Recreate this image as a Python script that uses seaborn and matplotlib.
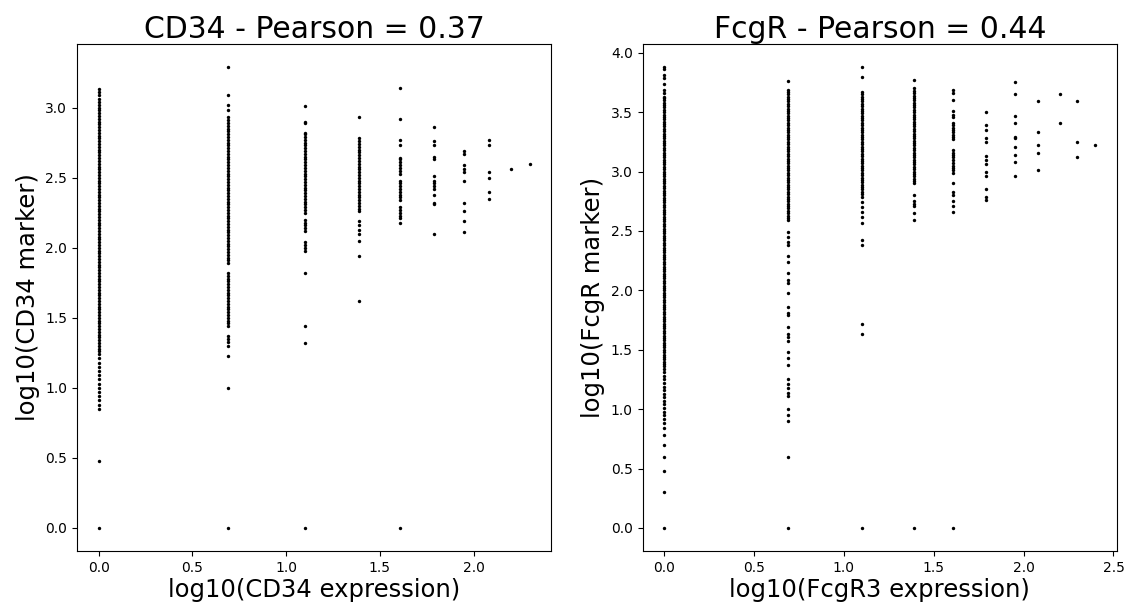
import matplotlib
matplotlib.use("Agg")
import matplotlib.pyplot as plt
import seaborn as sns
import pandas as pd

# ---------------- data ----------------
cd34_x_levels = [0.0, 0.69, 1.10, 1.39, 1.61, 1.79, 1.95, 2.08, 2.20, 2.30]
cd34_y_by_level = [
    # x = 0.00
    [0.0, 0.48, 0.85, 0.88, 0.91, 0.94, 0.97, 1.00, 1.03, 1.06, 1.09, 1.12, 1.15, 1.18, 1.21,
     1.24, 1.26, 1.28, 1.30, 1.32, 1.34, 1.36, 1.38, 1.40, 1.42, 1.44, 1.46, 1.48, 1.50, 1.52,
     1.54, 1.56, 1.58, 1.60, 1.62, 1.64, 1.66, 1.68, 1.70, 1.72, 1.74, 1.76, 1.78, 1.80, 1.82,
     1.84, 1.86, 1.88, 1.90, 1.92, 1.94, 1.96, 1.98, 2.00, 2.02, 2.04, 2.06, 2.08, 2.10, 2.12,
     2.14, 2.16, 2.18, 2.20, 2.22, 2.24, 2.26, 2.28, 2.30, 2.32, 2.34, 2.36, 2.38, 2.40, 2.42,
     2.44, 2.46, 2.48, 2.50, 2.52, 2.54, 2.56, 2.58, 2.60, 2.62, 2.64, 2.66, 2.68, 2.70, 2.72,
     2.74, 2.76, 2.78, 2.80, 2.82, 2.84, 2.86, 2.88, 2.90, 2.92, 2.94, 2.96, 2.98, 3.00, 3.02,
     3.04, 3.06, 3.09, 3.11, 3.13],
    # x = 0.69
    [0.0, 1.00, 1.23, 1.30, 1.33, 1.35, 1.37, 1.44, 1.46, 1.48, 1.50, 1.52, 1.54, 1.56, 1.58,
     1.60, 1.62, 1.64, 1.66, 1.68, 1.70, 1.72, 1.74, 1.76, 1.78, 1.80, 1.82, 1.89, 1.91, 1.93,
     1.95, 1.97, 1.99, 2.01, 2.03, 2.05, 2.07, 2.09, 2.11, 2.13, 2.15, 2.17, 2.19, 2.21, 2.23,
     2.25, 2.27, 2.29, 2.31, 2.33, 2.35, 2.37, 2.39, 2.41, 2.43, 2.45, 2.47, 2.49, 2.51, 2.53,
     2.55, 2.57, 2.59, 2.61, 2.63, 2.65, 2.67, 2.69, 2.71, 2.73, 2.75, 2.77, 2.79, 2.81, 2.83,
     2.85, 2.87, 2.89, 2.91, 2.93, 2.98, 3.02, 3.09, 3.29],
    # x = 1.10
    [0.0, 1.32, 1.44, 1.82, 1.98, 2.00, 2.02, 2.04, 2.12, 2.14, 2.16, 2.18, 2.20, 2.25, 2.27,
     2.29, 2.31, 2.33, 2.35, 2.37, 2.39, 2.41, 2.43, 2.45, 2.47, 2.49, 2.51, 2.53, 2.55, 2.57,
     2.59, 2.61, 2.63, 2.65, 2.67, 2.69, 2.71, 2.73, 2.75, 2.77, 2.79, 2.81, 2.82, 2.89, 2.90,
     3.01],
    # x = 1.39
    [1.62, 1.94, 2.05, 2.10, 2.13, 2.16, 2.19, 2.26, 2.28, 2.30, 2.32, 2.34, 2.36, 2.38, 2.40,
     2.42, 2.44, 2.46, 2.48, 2.50, 2.52, 2.54, 2.56, 2.58, 2.60, 2.62, 2.64, 2.66, 2.68, 2.70,
     2.72, 2.74, 2.76, 2.78, 2.93],
    # x = 1.61
    [0.0, 2.18, 2.21, 2.23, 2.25, 2.27, 2.29, 2.34, 2.36, 2.38, 2.40, 2.42, 2.44, 2.46, 2.48,
     2.53, 2.55, 2.57, 2.59, 2.61, 2.63, 2.64, 2.73, 2.77, 2.92, 3.14],
    # x = 1.79
    [2.10, 2.31, 2.32, 2.38, 2.42, 2.44, 2.46, 2.48, 2.51, 2.63, 2.65, 2.73, 2.76, 2.86],
    # x = 1.95
    [2.11, 2.19, 2.26, 2.32, 2.48, 2.54, 2.56, 2.59, 2.67, 2.69],
    # x = 2.08
    [2.35, 2.40, 2.50, 2.54, 2.73, 2.77],
    # x = 2.20
    [2.56],
    # x = 2.30
    [2.60],
]

fcgr_x_levels = [0.0, 0.69, 1.10, 1.39, 1.61, 1.79, 1.95, 2.08, 2.20, 2.30, 2.40]
fcgr_y_by_level = [
    # x = 0.00
    [0.0, 0.30, 0.48, 0.60, 0.70, 0.78, 0.84, 0.88, 0.92, 0.95, 0.98, 1.01, 1.04, 1.07, 1.10,
     1.13, 1.16, 1.19, 1.22, 1.25, 1.28, 1.31, 1.34,
     1.36, 1.38, 1.40, 1.42, 1.44, 1.46, 1.48, 1.50, 1.52, 1.54, 1.56, 1.58, 1.60, 1.62, 1.64,
     1.66, 1.68, 1.70, 1.72, 1.74, 1.76, 1.78, 1.80, 1.82, 1.84, 1.86, 1.88, 1.90, 1.92, 1.94,
     1.96, 1.98, 2.00, 2.02, 2.04, 2.06, 2.08, 2.10, 2.12, 2.14, 2.16, 2.18, 2.20, 2.22, 2.24,
     2.26, 2.28, 2.30, 2.32, 2.34, 2.36, 2.38, 2.40, 2.42, 2.44, 2.46, 2.48, 2.50, 2.52, 2.54,
     2.56, 2.58, 2.60, 2.62, 2.64, 2.66, 2.68, 2.70, 2.72, 2.74, 2.76, 2.78, 2.80, 2.82, 2.84,
     2.86, 2.88, 2.90, 2.92, 2.94, 2.96, 2.98, 3.00, 3.02, 3.04, 3.06, 3.08, 3.10, 3.12, 3.14,
     3.16, 3.18, 3.20, 3.22, 3.24, 3.26, 3.28, 3.30, 3.32, 3.34, 3.36, 3.38, 3.40, 3.42, 3.44,
     3.46, 3.48, 3.50, 3.52, 3.54, 3.56, 3.58, 3.60, 3.62,
     3.63, 3.66, 3.69, 3.74, 3.79, 3.81, 3.86, 3.88],
    # x = 0.69
    [0.0, 0.60, 0.90, 0.95, 1.00, 1.11, 1.14, 1.18, 1.21, 1.25, 1.37, 1.43, 1.48, 1.57, 1.61,
     1.63, 1.69, 1.79, 1.81, 1.86, 1.98, 2.06, 2.09, 2.15, 2.24, 2.29, 2.38, 2.41, 2.45, 2.49,
     2.59, 2.61, 2.63, 2.65, 2.67, 2.69, 2.71, 2.73, 2.75, 2.77, 2.79, 2.81, 2.83, 2.85, 2.87,
     2.89, 2.91, 2.93, 2.95, 2.97, 2.99, 3.01, 3.03, 3.05, 3.07, 3.09, 3.11, 3.13, 3.15, 3.17,
     3.19, 3.21, 3.23, 3.25, 3.27, 3.29, 3.31, 3.33, 3.35, 3.37, 3.39, 3.41, 3.43, 3.45, 3.47,
     3.49, 3.51, 3.53, 3.55, 3.57, 3.59, 3.61, 3.63, 3.65, 3.67, 3.69, 3.76],
    # x = 1.10
    [0.0, 1.63, 1.72, 2.38, 2.42, 2.57, 2.62, 2.66, 2.70, 2.74,
     2.79, 2.81, 2.83, 2.85, 2.87, 2.89, 2.91, 2.93, 2.95, 2.97, 2.99, 3.01, 3.03, 3.05, 3.07,
     3.09, 3.11, 3.13, 3.15, 3.17, 3.19, 3.21, 3.23, 3.25, 3.27, 3.29, 3.31, 3.33, 3.35, 3.37,
     3.39, 3.41, 3.43, 3.45, 3.47, 3.49, 3.51, 3.53, 3.55, 3.57, 3.59, 3.61, 3.63, 3.65,
     3.67, 3.80, 3.88],
    # x = 1.39
    [0.0, 2.59, 2.65, 2.71, 2.73, 2.75, 2.80,
     2.90, 2.92, 2.94, 2.96, 2.98, 3.00, 3.02, 3.04, 3.06, 3.08, 3.10, 3.12, 3.14, 3.16, 3.18,
     3.20, 3.22, 3.24, 3.26, 3.28, 3.30, 3.32, 3.34, 3.36, 3.38, 3.40, 3.42, 3.44, 3.46, 3.48,
     3.50, 3.52, 3.54, 3.56, 3.58, 3.60, 3.62, 3.64, 3.66, 3.68, 3.70, 3.77],
    # x = 1.61
    [0.0, 2.66, 2.71, 2.75, 2.80, 2.83, 2.90, 2.99, 3.01, 3.03, 3.05, 3.07, 3.10, 3.12, 3.14,
     3.16, 3.18, 3.27, 3.29, 3.31, 3.33, 3.35, 3.37, 3.39, 3.41, 3.46, 3.48, 3.51, 3.60, 3.66,
     3.69],
    # x = 1.79
    [2.76, 2.79, 2.85, 2.96, 3.00, 3.06, 3.10, 3.13, 3.25, 3.28, 3.35, 3.39, 3.50],
    # x = 1.95
    [2.96, 3.08, 3.14, 3.21, 3.28, 3.29, 3.41, 3.47, 3.65, 3.75],
    # x = 2.08
    [3.01, 3.16, 3.22, 3.33, 3.59],
    # x = 2.20
    [3.41, 3.65],
    # x = 2.30
    [3.12, 3.25, 3.59],
    # x = 2.40
    [3.22],
]

titles = ["CD34 - Pearson = 0.37", "FcgR - Pearson = 0.44"]
xlabels = ["log10(CD34 expression)", "log10(FcgR3 expression)"]
ylabels = ["log10(CD34 marker)", "log10(FcgR marker)"]


def to_frame(levels, groups):
    xs, ys = [], []
    for lv, g in zip(levels, groups):
        xs.extend([lv] * len(g))
        ys.extend(g)
    return pd.DataFrame({"x": xs, "y": ys})


frames = [to_frame(cd34_x_levels, cd34_y_by_level),
          to_frame(fcgr_x_levels, fcgr_y_by_level)]

# ---------------- plot ----------------
plt.rcParams["font.family"] = ["DejaVu Sans"]
fig, axes = plt.subplots(1, 2, figsize=(11.29, 6.10), dpi=100)
fig.subplots_adjust(left=0.0682, right=0.9894, bottom=0.0967, top=0.9279, wspace=0.192)

for ax, df, t, xl, yl in zip(axes, frames, titles, xlabels, ylabels):
    sns.scatterplot(data=df, x="x", y="y", ax=ax, color="black", s=6,
                    linewidth=0, edgecolor=None, legend=False)
    ax.set_title(t, fontsize=21.5, pad=4)
    ax.set_xlabel(xl, fontsize=17.5, labelpad=2)
    ax.set_ylabel(yl, fontsize=17.5)
    ax.tick_params(labelsize=10)

fig.savefig("out.png", dpi=100)
